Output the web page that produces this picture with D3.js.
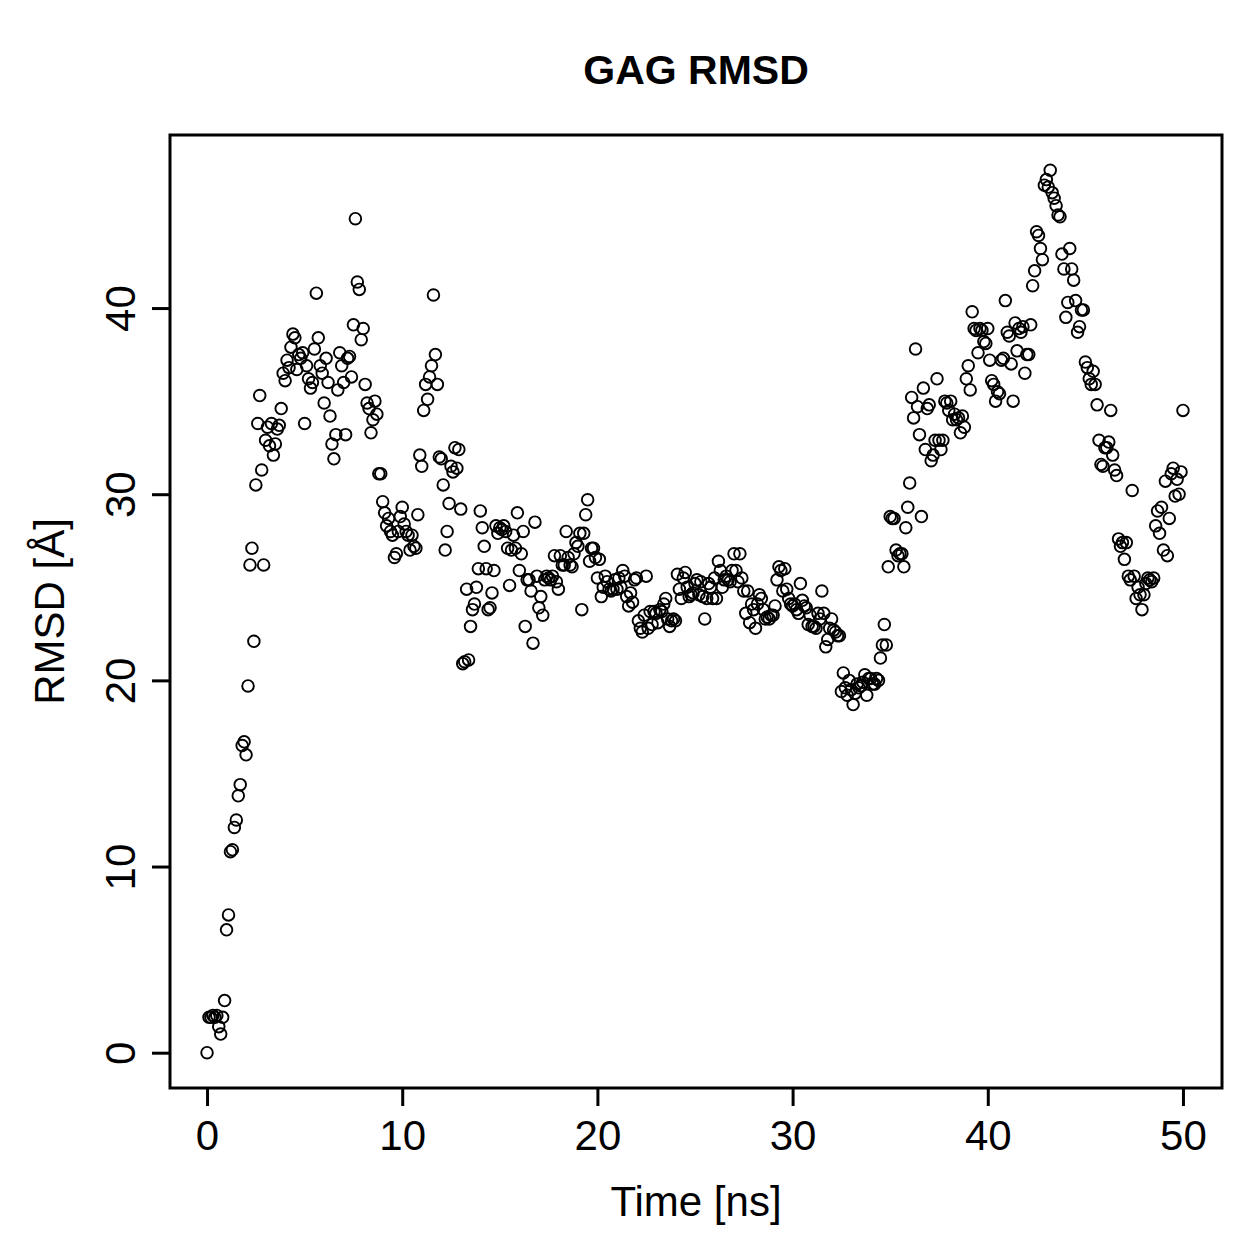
<!DOCTYPE html>
<html>
<head>
<meta charset="utf-8">
<script src="https://cdn.jsdelivr.net/npm/d3@7.9.0/dist/d3.min.js"></script>
<style>
  body { margin: 0; background: #fff; }
  svg { display: block; font-family: "Liberation Sans", Arial, Helvetica, sans-serif; }
</style>
</head>
<body>
<svg id="chart" width="1259" height="1259"></svg>
<script>
// RMSD values, one every 0.1 ns from 0 to 50 ns
const rmsd = [
  0, 1.9, 1.9, 2.0, 1.9, 2.0, 1.4, 1.0, 1.9, 2.8,
  6.6, 7.4, 10.8, 10.9, 12.1, 12.5, 13.8, 14.4, 16.5, 16.7,
  16.0, 19.7,
  26.2, 27.1, 22.1, 30.5, 33.8, 35.3, 31.3, 26.2, 32.9, 33.6,
  32.6, 33.8, 32.1, 32.7, 33.5, 33.7, 34.6, 36.5, 36.1, 37.2, 36.8,
  37.9, 38.6, 38.4, 36.7, 37.5, 37.3, 37.6, 33.8, 36.9, 36.2,
  35.7, 36.0, 37.8, 40.8, 38.4, 36.9, 36.5, 34.9, 37.3, 36.0, 34.2,
  32.7, 31.9, 33.2, 35.6, 37.6, 36.9, 36.0, 33.2, 37.3, 37.4, 36.3,
  39.1, 44.8, 41.4, 41.0, 38.3, 38.9, 35.9, 34.9, 34.6, 33.3, 34.0,
  35.0, 34.3, 31.1, 31.1, 29.6, 29.0, 28.3, 28.7, 28.0, 27.8,
  26.6, 26.8, 28.0, 28.8, 29.3, 28.4, 28.0, 27.8, 27.0, 27.8,
  27.2, 27.1, 28.9, 32.1, 31.5, 34.5, 35.9, 35.1, 36.3, 36.9,
  40.7, 37.5, 35.9, 32.0, 31.9, 30.5, 27.0, 28.0, 29.5, 31.5, 31.2,
  32.5, 31.4, 32.4, 29.2, 20.9, 21.0, 24.9, 21.1, 22.9, 23.8,
  24.1, 25.0, 26.0, 29.1, 28.2, 27.2, 26.0, 23.8, 23.9, 24.7,
  25.9, 28.3, 27.9, 28.2, 28.1, 28.3, 28.0, 27.1, 25.1, 27.0, 27.8,
  27.1, 29.0, 25.9, 26.8, 28.0, 22.9, 25.4, 25.4, 24.8, 22.0,
  28.5, 25.6, 23.9, 24.5, 23.5, 25.4, 25.6, 25.5, 25.4, 25.6, 26.7,
  25.3, 24.9, 26.7, 26.2, 26.2, 28.0, 26.6, 26.2, 26.1, 26.8,
  27.4, 27.2, 27.9, 23.8, 27.9, 28.9, 29.7, 26.4, 27.1, 27.1,
  26.6, 25.5, 26.5, 24.5, 25.0, 25.6, 25.3, 24.9, 24.8, 24.9,
  25.4, 24.9, 25.5, 25.0, 25.9, 25.6, 24.5, 24.0, 24.7, 24.2,
  25.4, 25.5, 23.2, 22.8, 22.6, 23.5, 25.6, 22.8, 23.7, 23.0,
  23.7, 23.6, 23.1, 23.8, 23.7, 24.1, 24.4, 23.3, 22.9, 23.2, 23.3,
  23.2, 25.7, 24.9, 24.4, 25.5, 25.8, 25.0, 24.5, 24.6, 24.7,
  25.2, 25.4, 24.6, 25.3, 24.5, 23.3, 24.4, 25.2, 25.0, 24.4,
  25.5, 24.4, 26.4, 25.9, 25.0, 25.4, 25.6, 25.4, 25.3, 25.9, 26.8,
  25.9, 25.3, 26.8, 25.5, 24.8, 23.6, 24.8, 23.1, 24.1, 23.8,
  22.8, 24.1, 24.6, 24.4, 23.8, 23.3, 23.4, 23.3, 23.5, 23.5,
  24.0, 25.4, 26.1, 25.9, 24.8, 26.0, 24.9, 24.4, 24.1, 24.0,
  24.1, 23.8, 23.6, 25.2, 24.3, 24.0, 23.9, 23.0, 23.5, 22.9,
  22.9, 22.8, 23.6, 23.3, 24.8, 23.6, 21.8, 22.2, 22.8, 23.3,
  22.7, 22.6, 22.4, 22.4, 19.4, 20.4, 19.6, 19.2, 20.0, 19.5,
  18.7, 19.3, 19.8, 19.6, 19.7, 19.9, 20.3, 19.2, 20.1, 20.1, 19.8,
  19.8, 20.1, 20.0, 21.2, 21.9, 23.0, 21.9, 26.1, 28.8, 28.7,
  28.7, 27.0, 26.7, 26.8, 26.8, 26.1, 28.2, 29.3, 30.6, 35.2,
  34.1, 37.8, 34.7, 33.2, 28.8, 35.7, 32.4, 34.6, 34.8, 31.8,
  32.1, 32.9, 36.2, 32.9, 32.4, 32.9, 35.0, 34.9, 34.5, 35.0,
  34.0, 34.3, 34.0, 34.1, 33.3, 34.2, 33.6, 36.2, 36.9, 35.6, 39.8,
  38.9, 38.8, 37.6, 38.9, 38.8, 38.2, 38.1, 38.9, 37.2, 36.1,
  35.9, 35.0, 35.5, 35.4, 37.2, 37.3, 40.4, 38.7, 38.5, 37.0, 35.0,
  39.2, 37.7, 38.9, 38.7, 39.0, 36.5, 37.5, 37.5, 39.1, 41.2,
  42.0, 44.1, 43.9, 43.2, 42.6, 46.6, 46.9, 46.5, 47.4, 46.2,
  45.9, 45.5, 45.0, 44.9, 42.9, 42.1, 39.5, 40.3, 43.2, 42.1, 41.5,
  40.4, 38.7, 39.0, 39.9, 39.9, 37.1, 36.8, 36.2, 35.9, 36.6,
  35.9, 34.8, 32.9, 31.6, 31.5, 32.5, 32.5, 32.8, 34.5, 32.1,
  31.3, 31.0, 27.6, 27.2, 27.4, 26.5, 27.4, 25.6, 25.4, 30.2,
  25.6, 24.4, 25.0, 24.6, 23.8, 24.6, 25.2, 25.5, 25.4, 25.3, 25.5,
  28.3, 29.1, 27.9, 29.3, 27.0, 30.7, 26.7, 28.7, 31.1, 31.4,
  29.9, 30.8, 30.0, 31.2, 34.5
];
const times = rmsd.map((_, i) => i / 10);

const xTicks = [0, 10, 20, 30, 40, 50];
const yTicks = [0, 10, 20, 30, 40];
const titleText = "GAG RMSD";
const xLabel = "Time [ns]";
const yLabel = "RMSD [Å]";

const box = { left: 170, right: 1222, top: 135, bottom: 1088 };

// R-style 4% padding on both axes
function padded(ext) {
  const p = (ext[1] - ext[0]) * 0.04;
  return [ext[0] - p, ext[1] + p];
}

const x = d3.scaleLinear().domain(padded(d3.extent(times))).range([box.left - 2, box.right]);
const y = d3.scaleLinear().domain(padded(d3.extent(rmsd))).range([box.bottom, box.top]);

const svg = d3.select("#chart");

// points
svg.append("g")
  .selectAll("circle")
  .data(rmsd)
  .join("circle")
  .attr("cx", (d, i) => x(times[i]))
  .attr("cy", d => y(d))
  .attr("r", 5.8)
  .attr("fill", "none")
  .attr("stroke", "#000")
  .attr("stroke-width", 1.9);

// bottom axis
const xAxis = svg.append("g")
  .attr("transform", `translate(0,${box.bottom})`)
  .call(d3.axisBottom(x).tickValues(xTicks).tickSize(18).tickFormat(d3.format("d")));
xAxis.select(".domain").remove();
xAxis.selectAll("line").attr("stroke-width", 3);
xAxis.selectAll("text").attr("font-size", 42).attr("fill", "#000")
  .attr("dy", null).attr("y", 62);

// left axis, labels turned like R's default
const yAxis = svg.append("g")
  .attr("transform", `translate(${box.left},0)`)
  .call(d3.axisLeft(y).tickValues(yTicks).tickSize(18).tickFormat(d3.format("d")));
yAxis.select(".domain").remove();
yAxis.selectAll("line").attr("stroke-width", 3);
yAxis.selectAll("text")
  .attr("font-size", 42).attr("fill", "#000")
  .attr("x", null).attr("dy", null)
  .attr("text-anchor", "middle")
  .attr("transform", "translate(-35,0) rotate(-90)");

// frame
svg.append("rect")
  .attr("x", box.left).attr("y", box.top)
  .attr("width", box.right - box.left).attr("height", box.bottom - box.top)
  .attr("fill", "none").attr("stroke", "#000").attr("stroke-width", 3);

// titles
svg.append("text")
  .attr("x", (box.left + box.right) / 2).attr("y", 84)
  .attr("text-anchor", "middle").attr("font-size", 41).attr("font-weight", "bold")
  .text(titleText);

svg.append("text")
  .attr("x", (box.left + box.right) / 2).attr("y", 1216)
  .attr("text-anchor", "middle").attr("font-size", 42)
  .text(xLabel);

svg.append("text")
  .attr("transform", `translate(64,${(box.top + box.bottom) / 2}) rotate(-90)`)
  .attr("text-anchor", "middle").attr("font-size", 42)
  .text(yLabel);
</script>
</body>
</html>
